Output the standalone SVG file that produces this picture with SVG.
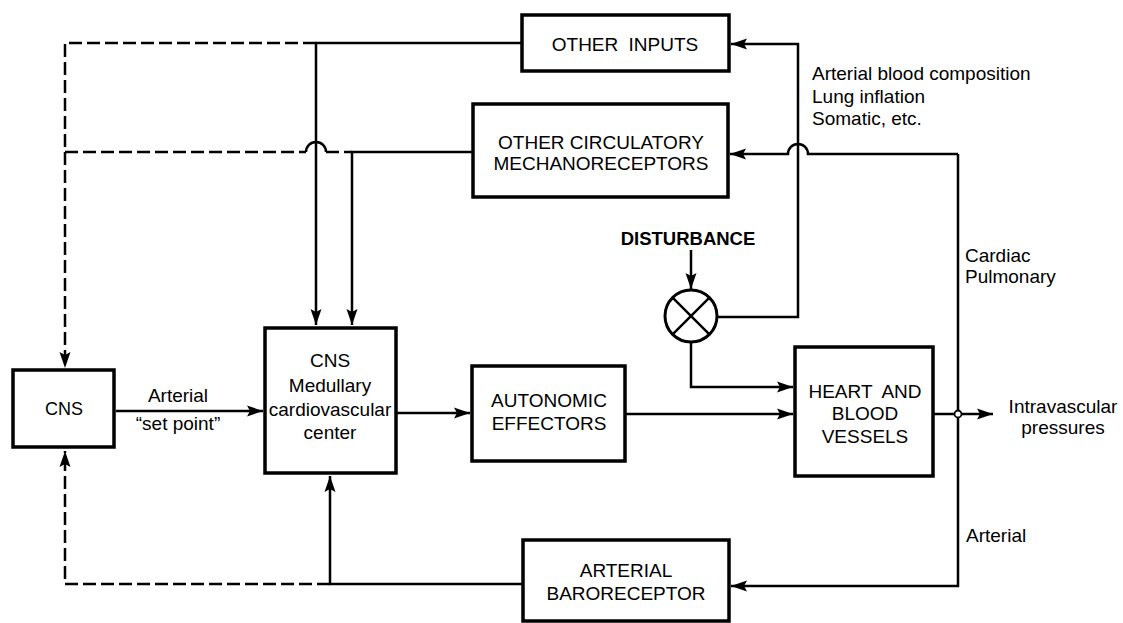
<svg xmlns="http://www.w3.org/2000/svg" width="1123" height="623" viewBox="0 0 1123 623">
<style>
.box{fill:#fff;stroke:#000;stroke-width:3.5}
.ln{fill:none;stroke:#000;stroke-width:2.5}
.dash{fill:none;stroke:#000;stroke-width:2.5;stroke-dasharray:13 5}
.t{font-family:"Liberation Sans",Arial,sans-serif;font-size:19px;fill:#000}
.c{text-anchor:middle}
.b{font-weight:bold}
.ws{word-spacing:5px}
</style>
<defs>
<marker id="ah" markerUnits="userSpaceOnUse" markerWidth="18" markerHeight="12" refX="16" refY="6" orient="auto">
<path d="M0,0.5 L16,6 L0,11.5 L3,6 z" fill="#000"/>
</marker>
</defs>
<rect width="1123" height="623" fill="#fff"/>
<g id="connectors">
<path class="dash" d="M316,43 H65 V368" marker-end="url(#ah)"/>
<path class="ln" d="M522,43 H316 V325" marker-end="url(#ah)"/>
<path class="dash" d="M65,152 H306"/>
<path class="ln" d="M306,152 A10,10 0 0 1 326,152"/>
<path class="dash" d="M326,152 H352"/>
<path class="ln" d="M473,152 H352 V325" marker-end="url(#ah)"/>
<path class="ln" d="M116,411 H263" marker-end="url(#ah)"/>
<path class="ln" d="M396,413 H470" marker-end="url(#ah)"/>
<path class="ln" d="M625,414 H793" marker-end="url(#ah)"/>
<path class="ln" d="M691,250 V289" marker-end="url(#ah)"/>
<path class="ln" d="M691,342 V387 H793" marker-end="url(#ah)"/>
<path class="ln" d="M717,317 H798 V44 H731" marker-end="url(#ah)"/>
<path class="ln" d="M933,414 H993" marker-end="url(#ah)"/>
<path class="ln" d="M958,154 V586 H731" marker-end="url(#ah)"/>
<path class="ln" d="M958,154 H808 A10,10 0 0 0 788,154 H730" marker-end="url(#ah)"/>
<circle cx="958" cy="414" r="3.5" fill="#fff" stroke="#000" stroke-width="1.8"/>
<path class="ln" d="M523,584 H330 V476" marker-end="url(#ah)"/>
<path class="dash" d="M330,584 H65 V451" marker-end="url(#ah)"/>
</g>
<g id="other-inputs">
<rect class="box" x="522" y="15" width="207" height="56"/>
<text class="t c ws" x="625" y="51">OTHER INPUTS</text>
</g>
<g id="other-circ">
<rect class="box" x="473" y="104" width="255" height="93"/>
<text class="t c" x="601" y="149">OTHER CIRCULATORY</text>
<text class="t c" x="601" y="170">MECHANORECEPTORS</text>
</g>
<g id="cns">
<rect class="box" x="13" y="370" width="101" height="77"/>
<text class="t c" x="64" y="415" style="font-size:18px">CNS</text>
</g>
<g id="center">
<rect class="box" x="265" y="328" width="131" height="145"/>
<text class="t c" x="330" y="367">CNS</text>
<text class="t c" x="330" y="392">Medullary</text>
<text class="t c" x="330" y="416">cardiovascular</text>
<text class="t c" x="330" y="439">center</text>
</g>
<g id="autonomic">
<rect class="box" x="472" y="366" width="153" height="95"/>
<text class="t c" x="549" y="407">AUTONOMIC</text>
<text class="t c" x="549" y="430">EFFECTORS</text>
</g>
<g id="heart">
<rect class="box" x="795" y="347" width="138" height="129"/>
<text class="t c ws" x="865" y="398">HEART AND</text>
<text class="t c" x="865" y="420">BLOOD</text>
<text class="t c" x="865" y="443">VESSELS</text>
</g>
<g id="baroreceptor">
<rect class="box" x="523" y="540" width="206" height="81"/>
<text class="t c" x="626" y="577">ARTERIAL</text>
<text class="t c" x="626" y="600">BARORECEPTOR</text>
</g>
<g id="summer">
<circle cx="691" cy="316" r="26" fill="#fff" stroke="#000" stroke-width="3"/>
<path class="ln" d="M672.6,297.6 L709.4,334.4 M709.4,297.6 L672.6,334.4" stroke-width="1.8"/>
</g>
<g id="labels">
<text class="t c b" x="688" y="245" style="font-size:18.5px">DISTURBANCE</text>
<text class="t c" x="178" y="402">Arterial</text>
<text class="t c" x="178" y="430">“set point”</text>
<text class="t" x="812" y="80">Arterial blood composition</text>
<text class="t" x="812" y="103">Lung inflation</text>
<text class="t" x="812" y="125">Somatic, etc.</text>
<text class="t" x="965" y="262">Cardiac</text>
<text class="t" x="965" y="283">Pulmonary</text>
<text class="t" x="966" y="542">Arterial</text>
<text class="t c" x="1063" y="413">Intravascular</text>
<text class="t c" x="1063" y="434">pressures</text>
</g>
</svg>
